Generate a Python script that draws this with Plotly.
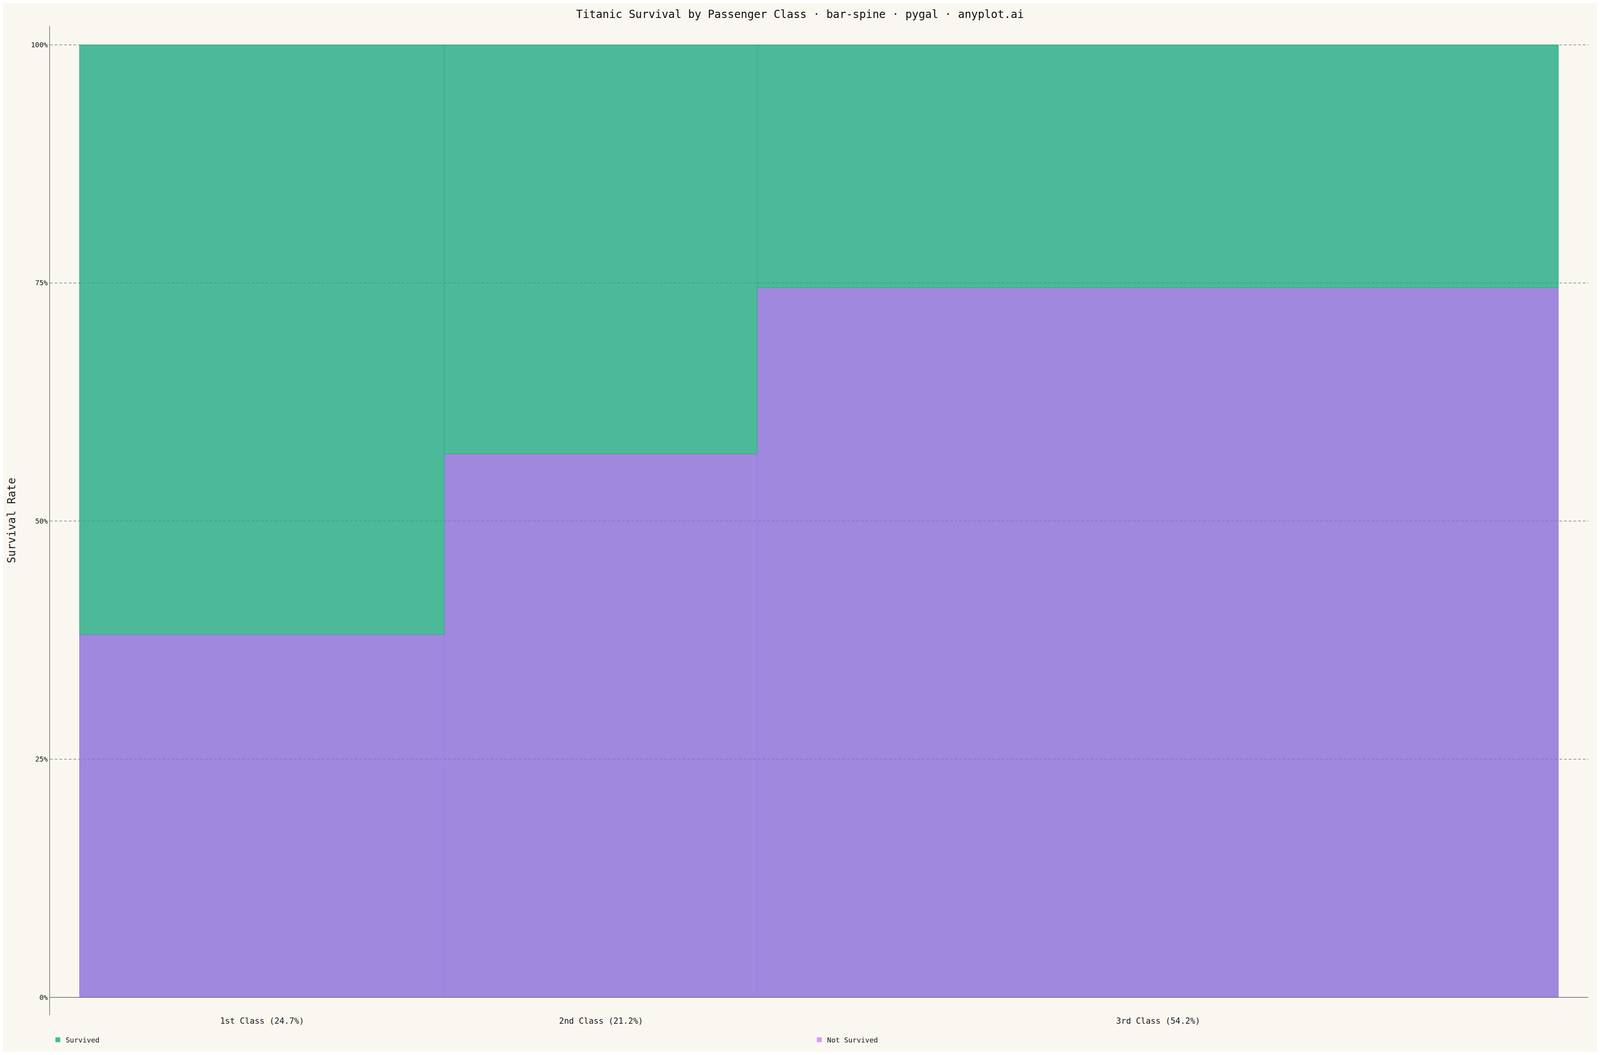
import plotly.graph_objects as go

FONT = "DejaVu Sans Mono"
BG = "#FAF7F0"

# Titanic passengers (full 1309 list) by class
classes = ["1st Class", "2nd Class", "3rd Class"]
passengers = [323, 277, 709]
survived = [200, 119, 181]
not_survived = [123, 158, 528]

y_ticks = [0, 0.25, 0.5, 0.75, 1.0]
y_tick_labels = ["0%", "25%", "50%", "75%", "100%"]

total = sum(passengers)
shares = [p / total for p in passengers]
lefts = [sum(shares[:i]) for i in range(len(shares))]
centers = [l + s / 2 for l, s in zip(lefts, shares)]
x_labels = ["%s (%.1f%%)" % (c, s * 100) for c, s in zip(classes, shares)]

rate_dead = [d / p for d, p in zip(not_survived, passengers)]
rate_alive = [a / p for a, p in zip(survived, passengers)]

fig = go.Figure()
fig.add_trace(go.Bar(x=centers, y=rate_dead, width=shares, name="Not Survived",
                     marker=dict(color="rgba(137,108,217,0.8)",
                                 line=dict(color="#9D70EE", width=1.5)),
                     showlegend=False))
fig.add_trace(go.Bar(x=centers, y=rate_alive, width=shares, name="Survived",
                     marker=dict(color="rgba(33,169,130,0.8)",
                                 line=dict(color="#1FA77E", width=1.5)),
                     showlegend=False))

# legend swatches (pygal draws them in the plain series colours)
fig.add_trace(go.Bar(x=[None], y=[None], name="Survived",
                     marker=dict(color="#4CB596", line=dict(color="#7FD0B5", width=1))))
fig.add_trace(go.Bar(x=[None], y=[None], name="Not Survived",
                     marker=dict(color="#D09AF5", line=dict(color="#E0B8F8", width=1))))

# guides: solid at 0%, dashed elsewhere
for t in y_ticks:
    fig.add_shape(type="line", xref="paper", x0=0, x1=1, yref="y", y0=t, y1=t,
                  layer="below",
                  line=dict(color="#555555" if t == 0 else "#7A7A7A", width=1.5,
                            dash="solid" if t == 0 else "7px,5px"))

fig.update_layout(
    autosize=True,
    paper_bgcolor=BG, plot_bgcolor=BG,
    margin=dict(l=120, r=22, t=58, b=83),
    barmode="stack", bargap=0,
    font=dict(family=FONT, size=18, color="#222222"),
    title=dict(text="Titanic Survival by Passenger Class · bar-spine · pygal · anyplot.ai",
               x=0.5, xanchor="center", y=0.9896, yanchor="middle",
               font=dict(family=FONT, size=28, color="#111111")),
    legend=dict(orientation="h", x=0, xanchor="left", y=-0.025, yanchor="middle",
                entrywidth=0.495, entrywidthmode="fraction", traceorder="normal",
                font=dict(family=FONT, size=18, color="#222222"),
                bgcolor="rgba(0,0,0,0)"),
)
fig.update_xaxes(range=[-0.02, 1.02], tickvals=centers, ticktext=x_labels,
                 showgrid=False, zeroline=False, showline=False, ticks="",
                 tickfont=dict(family=FONT, size=21, color="#222222"))
fig.update_yaxes(range=[-0.0187, 1.02], tickvals=y_ticks, ticktext=y_tick_labels,
                 showgrid=False, zeroline=False, showline=True,
                 linecolor="#888888", linewidth=2, ticks="",
                 tickfont=dict(family=FONT, size=18, color="#222222"),
                 title=dict(text="Survival Rate", standoff=31,
                            font=dict(family=FONT, size=28, color="#222222")))

fig.write_html("out.html")
